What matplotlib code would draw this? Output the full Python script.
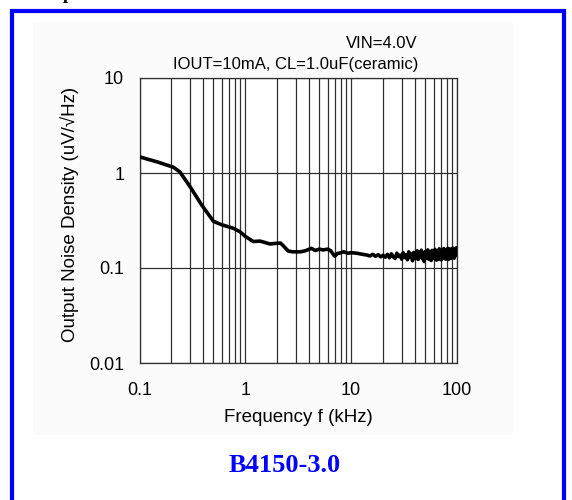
import matplotlib
matplotlib.use("Agg")
import matplotlib.pyplot as plt
from matplotlib.patches import Rectangle

plt.rcParams['font.family'] = ['Liberation Sans', 'DejaVu Sans']

# ---- data (kHz, uV/sqrtHz) ----
freq_smooth = [0.1, 0.15, 0.209, 0.24, 0.3, 0.387, 0.5, 0.6, 0.77, 0.89, 1.0, 1.19,
               1.375, 1.55, 1.71, 1.98, 2.15, 2.3, 2.54, 2.8, 3.3, 3.7, 4.2, 4.6,
               5.0, 5.45, 6.0, 6.4, 7.0, 7.4, 7.85, 8.5, 9.3, 10.0, 11.3, 12.5,
               14, 15, 16, 17, 18, 19]
noise_smooth = [1.48, 1.30, 1.15, 1.03, 0.72, 0.46, 0.31, 0.285, 0.262, 0.241, 0.215, 0.19,
                0.192, 0.185, 0.179, 0.182, 0.183, 0.17, 0.151, 0.148, 0.148, 0.152, 0.161, 0.153,
                0.158, 0.155, 0.158, 0.152, 0.133, 0.142, 0.144, 0.148, 0.143, 0.145, 0.143, 0.140,
                0.137, 0.134, 0.139, 0.133, 0.138, 0.131]
freq_noisy = [20, 21, 22, 23, 24, 25, 26, 27, 28, 29,
              30, 31, 32, 33, 34, 35, 36, 37, 38, 39,
              40, 41, 42, 43, 44, 45, 46, 47, 48, 49,
              50, 51, 52, 53, 54, 55, 56, 57, 58, 59,
              60, 61, 62, 63, 64, 65, 66, 67, 68, 69,
              70, 71, 72, 73, 74, 75, 76, 77, 78, 79,
              80, 81, 82, 83, 84, 85, 86, 87, 88, 89,
              90, 91, 92, 93, 94, 95, 96, 97, 98, 99, 100]
noise_noisy = [0.136, 0.130, 0.139, 0.128, 0.141, 0.131, 0.126, 0.143, 0.132, 0.137,
               0.124, 0.145, 0.129, 0.138, 0.122, 0.148, 0.130, 0.140, 0.119, 0.146,
               0.135, 0.126, 0.152, 0.123, 0.142, 0.130, 0.154, 0.125, 0.139, 0.117,
               0.149, 0.133, 0.127, 0.155, 0.124, 0.145, 0.136, 0.120, 0.153, 0.129,
               0.147, 0.126, 0.157, 0.132, 0.121, 0.150, 0.138, 0.124, 0.159, 0.128,
               0.144, 0.122, 0.154, 0.135, 0.126, 0.160, 0.130, 0.148, 0.124, 0.156,
               0.139, 0.128, 0.161, 0.123, 0.149, 0.133, 0.158, 0.126, 0.153, 0.140,
               0.130, 0.162, 0.134, 0.150, 0.127, 0.159, 0.141, 0.155, 0.135, 0.163, 0.150]

x_ticks = [0.1, 1, 10, 100]
x_ticklabels = ['0.1', '1', '10', '100']
y_ticks = [0.01, 0.1, 1, 10]
y_ticklabels = ['0.01', '0.1', '1', '10']

W, H = 572, 500
fig = plt.figure(figsize=(W / 100, H / 100), dpi=100)
fig.patch.set_facecolor('white')

# light panel background
fig.patches.append(Rectangle((33 / W, 1 - 435 / H), (513 - 33) / W, (435 - 22) / H,
                             transform=fig.transFigure, facecolor='#fbfbfb',
                             edgecolor='none', zorder=-5))
# blue frame
fig.patches.append(Rectangle((12 / W, -0.05), (564 - 12) / W, 1 - 11 / H + 0.05,
                             transform=fig.transFigure, facecolor='none',
                             edgecolor='#0000ff', linewidth=3.0, zorder=5))

ax = fig.add_axes([139.5 / W, 1 - 363 / H, (457 - 139.5) / W, (363 - 78) / H])
ax.set_zorder(2)
ax.set_facecolor('white')
ax.set_xscale('log')
ax.set_yscale('log')
ax.set_xlim(0.1, 100)
ax.set_ylim(0.01, 10)

ax.plot(freq_smooth + freq_noisy, noise_smooth + noise_noisy, color='black',
        linewidth=2.6, solid_joinstyle='round', zorder=3)

ax.grid(True, which='both', axis='x', color='#303030', linewidth=0.9)
ax.grid(True, which='major', axis='y', color='#303030', linewidth=0.9)
ax.set_xticks(x_ticks)
ax.set_xticklabels(x_ticklabels)
ax.set_yticks(y_ticks)
ax.set_yticklabels(y_ticklabels)
ax.tick_params(which='both', length=0)
ax.tick_params(axis='x', pad=14, labelsize=13)
ax.tick_params(axis='y', pad=11, labelsize=13)
ax.yaxis.set_minor_formatter(matplotlib.ticker.NullFormatter())
ax.xaxis.set_minor_formatter(matplotlib.ticker.NullFormatter())
ax.set_axisbelow(True)
for s in ax.spines.values():
    s.set_color('#303030')
    s.set_linewidth(0.9)

ax.set_xlabel('Frequency f (kHz)', fontsize=13.5, labelpad=7)
ax.set_ylabel('Output Noise Density (uV/\u221aHz)', fontsize=13.5)
ax.yaxis.set_label_coords(-0.192, 0.52)

fig.text(418 / W, 1 - 43 / H, 'VIN=4.0V', ha='right', va='center', fontsize=12)
fig.text(418 / W, 1 - 64 / H, 'IOUT=10mA, CL=1.0uF(ceramic)', ha='right', va='center', fontsize=12)
fig.text(285 / W, 1 - 465 / H, 'B4150-3.0', ha='center', va='center', fontsize=19,
         fontweight='bold', color='#0000ff', family='Liberation Serif')
fig.text(68 / W, 1 + 1 / H, 'p', ha='center', va='baseline', fontsize=13,
         fontweight='bold', color='black', family='Liberation Serif')

fig.savefig('out.png', dpi=100)
